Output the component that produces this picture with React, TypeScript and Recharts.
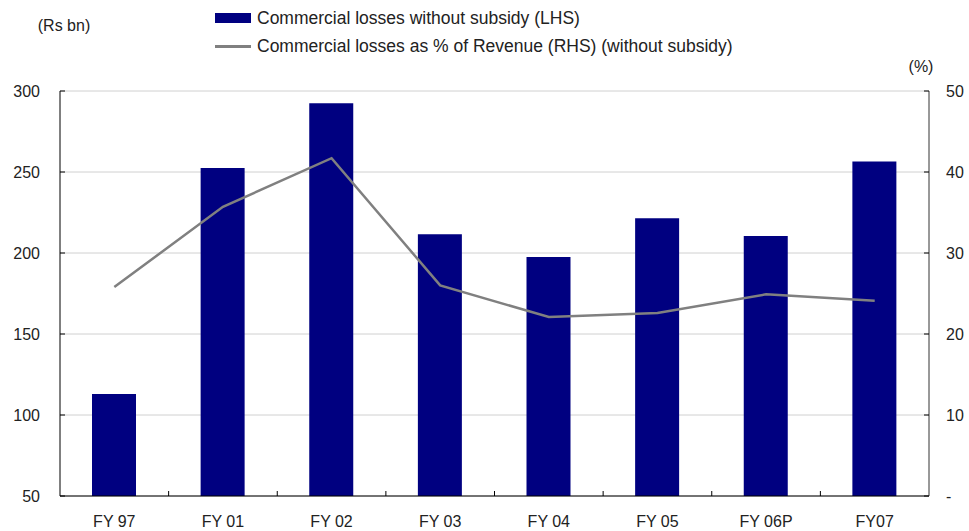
import { ComposedChart, Bar, Line, XAxis, YAxis, CartesianGrid } from "recharts";

const years = ["FY 97", "FY 01", "FY 02", "FY 03", "FY 04", "FY 05", "FY 06P", "FY07"];
const lossesRsBn = [113, 252.5, 292.5, 211.5, 197.5, 221.5, 210.5, 256.5];
const lossesPctRevenue = [25.8, 35.7, 41.7, 26.0, 22.1, 22.6, 24.9, 24.1];
const leftTicks = [50, 100, 150, 200, 250, 300];
const rightTicks = [0, 10, 20, 30, 40, 50];

const data = years.map((year, i) => ({
  year,
  losses: lossesRsBn[i],
  pct: lossesPctRevenue[i],
}));

const W = 969;
const H = 531;
const PLOT_LEFT = 60;
const PLOT_RIGHT = 929;
const BAND = (PLOT_RIGHT - PLOT_LEFT) / years.length;
const FONT = "'Liberation Sans', Arial, sans-serif";
const TEXT = "#222";
const NAVY = "#000080";
const GREY = "#808080";

const LeftTick = ({ x, y, payload }: any) => (
  <g>
    <line x1={PLOT_LEFT} x2={PLOT_LEFT + 5} y1={y} y2={y} stroke="#000" />
    <text x={x} y={y} dy={6} textAnchor="end" fontSize={16} fill={TEXT} fontFamily={FONT}>
      {payload.value}
    </text>
  </g>
);

const RightTick = ({ x, y, payload }: any) => (
  <g>
    <line x1={PLOT_RIGHT - 5} x2={PLOT_RIGHT} y1={y} y2={y} stroke="#000" />
    <text x={x} y={y} dy={6} textAnchor="start" fontSize={16} fill={TEXT} fontFamily={FONT}>
      {payload.value === 0 ? "-" : payload.value}
    </text>
  </g>
);

// category labels plus the small upward ticks between bars
const BottomTick = ({ x, y, payload }: any) => {
  const axisY = y - 20;
  const sep = x + BAND / 2;
  return (
    <g>
      {sep < PLOT_RIGHT - 1 && (
        <line x1={sep} x2={sep} y1={axisY} y2={axisY - 5} stroke="#000" />
      )}
      <text x={x} y={y} dy={11} textAnchor="middle" fontSize={16} fill={TEXT} fontFamily={FONT}>
        {payload.value}
      </text>
    </g>
  );
};

const App = () => {
  return (
    <div style={{ position: "absolute", top: 0, left: 0, width: W, height: H, background: "#fff" }}>
      <ComposedChart
        width={W}
        height={H}
        data={data}
        margin={{ top: 91, right: 0, left: 0, bottom: 0 }}
      >
        <CartesianGrid yAxisId="left" vertical={false} stroke="#d0d0d0" />
        <XAxis
          dataKey="year"
          height={35}
          axisLine={{ stroke: "#000" }}
          tickLine={false}
          tickSize={0}
          tickMargin={20}
          tick={<BottomTick />}
          interval={0}
        />
        <YAxis
          yAxisId="left"
          orientation="left"
          width={60}
          domain={[50, 300]}
          ticks={leftTicks}
          axisLine={{ stroke: "#000" }}
          tickLine={false}
          tickSize={0}
          tickMargin={20}
          tick={<LeftTick />}
          label={{
            content: () => (
              <text x={64} y={31} textAnchor="middle" fontSize={16} fill={TEXT} fontFamily={FONT}>
                (Rs bn)
              </text>
            ),
          }}
        />
        <YAxis
          yAxisId="right"
          orientation="right"
          width={40}
          domain={[0, 50]}
          ticks={rightTicks}
          axisLine={{ stroke: "#333" }}
          tickLine={false}
          tickSize={0}
          tickMargin={17}
          tick={<RightTick />}
          label={{
            content: () => (
              <text x={921} y={72} textAnchor="middle" fontSize={16} fill={TEXT} fontFamily={FONT}>
                (%)
              </text>
            ),
          }}
        />
        <Bar yAxisId="left" dataKey="losses" fill={NAVY} barSize={44} isAnimationActive={false} />
        <Line
          yAxisId="right"
          dataKey="pct"
          type="linear"
          stroke={GREY}
          strokeWidth={2.5}
          dot={false}
          isAnimationActive={false}
        />
      </ComposedChart>

      <div
        style={{
          position: "absolute",
          top: 7,
          left: 215,
          fontFamily: FONT,
          fontSize: 17.5,
          color: TEXT,
          lineHeight: "22px",
        }}
      >
        <div style={{ display: "flex", alignItems: "center", height: 22, marginBottom: 6 }}>
          <span style={{ display: "inline-block", width: 36, height: 10, background: NAVY, marginRight: 6 }} />
          Commercial losses without subsidy (LHS)
        </div>
        <div style={{ display: "flex", alignItems: "center", height: 22 }}>
          <span style={{ display: "inline-block", width: 36, height: 3, background: GREY, marginRight: 6 }} />
          Commercial losses as % of Revenue (RHS) (without subsidy)
        </div>
      </div>
    </div>
  );
};

export default App;
